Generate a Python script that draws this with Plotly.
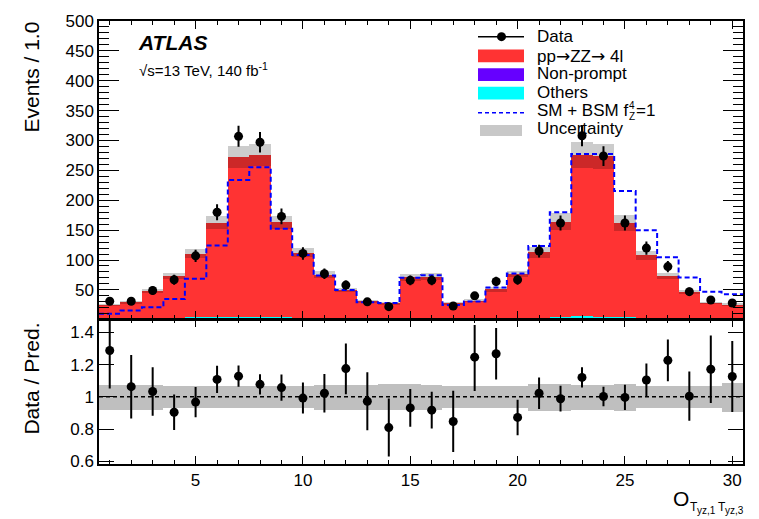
import plotly.graph_objects as go

# ---------------- data ----------------
bins = list(range(1, 31))
data = [31, 31, 49, 67, 107, 180, 307, 297, 173, 111, 77, 58, 30, 22, 66,
        66, 23, 40, 64, 67, 115, 162, 308, 274, 162, 120, 89, 47, 33, 28]
data_err = [5.6, 5.6, 7.0, 8.2, 10.3, 13.4, 17.5, 17.2, 13.2, 10.5, 8.8, 7.6, 5.5, 4.7, 8.1,
            8.1, 4.8, 6.3, 8.0, 8.2, 10.7, 12.7, 17.5, 16.6, 12.7, 11.0, 9.4, 6.9, 5.7, 5.3]
zz = [23.0, 27.6, 45.8, 70.5, 106.6, 157.6, 266.9, 270.1, 159.0, 108.6, 72.9, 47.9, 29.9, 26.0, 68.8,
      69.9, 26.0, 30.3, 48.8, 74.0, 109.0, 159.7, 269.9, 268.1, 158.0, 104.7, 70.0, 44.9, 26.8, 23.8]
nonprompt = [0.6, 0.7, 0.9, 1.1, 1.3, 1.5, 1.7, 1.7, 1.4, 1.1, 0.9, 0.7, 0.6, 0.6, 0.8,
             0.8, 0.6, 0.6, 0.8, 1.0, 1.2, 1.4, 1.7, 1.7, 1.4, 1.2, 0.9, 0.7, 0.6, 0.5]
others = [0.8, 0.9, 1.2, 2.0, 2.8, 3.4, 3.6, 3.5, 3.0, 2.2, 1.4, 1.0, 0.8, 0.8, 1.2,
          1.2, 0.8, 0.9, 1.2, 1.8, 2.5, 3.2, 3.8, 3.7, 3.0, 2.4, 1.6, 1.0, 0.8, 0.7]
bsm = [10.0, 15.6, 21.0, 34.7, 68.7, 124.5, 234.0, 255.4, 152.4, 108.6, 74.1, 50.0, 29.2, 28.1, 70.3,
       74.7, 24.8, 30.4, 53.9, 77.4, 123.4, 179.9, 277.3, 277.3, 215.4, 149.7, 104.8, 70.8, 46.8, 42.9]
unc_rel = [0.078, 0.078, 0.078, 0.068, 0.068, 0.067, 0.067, 0.067, 0.067, 0.067, 0.078, 0.078, 0.078, 0.08, 0.08,
           0.078, 0.07, 0.07, 0.07, 0.07, 0.083, 0.083, 0.078, 0.078, 0.083, 0.07, 0.07, 0.07, 0.07, 0.09]
ratio = [1.287, 1.063, 1.033, 0.904, 0.967, 1.108, 1.128, 1.077, 1.057, 0.992, 1.022, 1.175, 0.972, 0.809, 0.931,
         0.917, 0.847, 1.246, 1.267, 0.872, 1.022, 0.988, 1.120, 1.002, 0.996, 1.104, 1.226, 1.004, 1.171, 1.126]
ratio_err_up = [0.195, 0.196, 0.15, 0.11, 0.094, 0.084, 0.066, 0.063, 0.081, 0.096, 0.12, 0.155, 0.18, 0.18, 0.117,
                0.114, 0.19, 0.20, 0.16, 0.11, 0.098, 0.08, 0.063, 0.061, 0.078, 0.103, 0.13, 0.153, 0.21, 0.22]
ratio_err_down = [0.236, 0.197, 0.15, 0.11, 0.094, 0.084, 0.066, 0.063, 0.081, 0.096, 0.12, 0.16, 0.18, 0.18, 0.117,
                  0.114, 0.19, 0.21, 0.16, 0.11, 0.098, 0.08, 0.063, 0.061, 0.078, 0.103, 0.13, 0.153, 0.21, 0.22]
x_ticks = [5, 10, 15, 20, 25, 30]
y_ratio_ticks = [0.6, 0.8, 1.0, 1.2, 1.4]
y_ratio_labels = ["0.6", "0.8", "1", "1.2", "1.4"]

# ---------------- derived ----------------
edges = [b - 0.5 for b in bins] + [bins[-1] + 0.5]
base_others = nonprompt
base_zz = [n + o for n, o in zip(nonprompt, others)]
total = [n + o + z for n, o, z in zip(nonprompt, others, zz)]
band_base = [t * (1 - u) for t, u in zip(total, unc_rel)]
band_h = [2 * t * u for t, u in zip(total, unc_rel)]
rband_base = [1 - u for u in unc_rel]
rband_h = [2 * u for u in unc_rel]

FONT = "Liberation Sans, Arial, Helvetica, sans-serif"
RED = "#ff3333"
PURPLE = "#6600ff"
CYAN = "#00ffff"

W, H = 759, 519
ML, MR, MT, MB = 99, 16, 13, 55
PW, PH = W - ML - MR, H - MT - MB


def px(x):
    return (x - ML) / PW


def py(y):
    return (H - MB - y) / PH


fig = go.Figure()

# stacked backgrounds
fig.add_trace(go.Bar(x=bins, y=nonprompt, base=0, width=1,
                     marker=dict(color=PURPLE, line=dict(width=0)), xaxis="x", yaxis="y"))
fig.add_trace(go.Bar(x=bins, y=others, base=base_others, width=1,
                     marker=dict(color=CYAN, line=dict(width=0)), xaxis="x", yaxis="y"))
fig.add_trace(go.Bar(x=bins, y=zz, base=base_zz, width=1,
                     marker=dict(color=RED, line=dict(width=0)), xaxis="x", yaxis="y"))
# uncertainty band
fig.add_trace(go.Bar(x=bins, y=band_h, base=band_base, width=1,
                     marker=dict(color="rgba(0,0,0,0.2)", line=dict(width=0)), xaxis="x", yaxis="y"))
# BSM step line
fig.add_trace(go.Scatter(x=edges, y=bsm + [bsm[-1]], mode="lines",
                         line=dict(shape="hv", color="#0000ff", dash="5px,3px", width=2),
                         xaxis="x", yaxis="y"))
# data
fig.add_trace(go.Scatter(x=bins, y=data, mode="markers",
                         marker=dict(color="black", size=9),
                         error_y=dict(type="data", array=data_err, color="black", thickness=2, width=0),
                         xaxis="x", yaxis="y"))

# ratio band
fig.add_trace(go.Bar(x=bins, y=rband_h, base=rband_base, width=1,
                     marker=dict(color="rgba(0,0,0,0.25)", line=dict(width=0)), xaxis="x2", yaxis="y2"))
# ratio points
fig.add_trace(go.Scatter(x=bins, y=ratio, mode="markers",
                         marker=dict(color="black", size=9),
                         error_y=dict(type="data", symmetric=False, array=ratio_err_up,
                                      arrayminus=ratio_err_down, color="black", thickness=2, width=0),
                         xaxis="x2", yaxis="y2"))

shapes = [
    dict(type="line", xref="x2", yref="y2", x0=edges[0], x1=edges[-1], y0=1, y1=1,
         line=dict(color="black", width=1.5, dash="4px,3px"), layer="above"),
]

# ------- manual legend -------
lx0, lx1 = 478, 524
shapes += [
    dict(type="line", xref="paper", yref="paper", x0=px(lx0), x1=px(lx1), y0=py(29), y1=py(29),
         line=dict(color="black", width=1.5)),
    dict(type="circle", xref="paper", yref="paper", x0=px(497), x1=px(506), y0=py(33.5), y1=py(24.5),
         fillcolor="black", line=dict(color="black", width=0)),
    dict(type="rect", xref="paper", yref="paper", x0=px(lx0), x1=px(lx1), y0=py(55), y1=py(42),
         fillcolor=RED, line=dict(width=0)),
    dict(type="rect", xref="paper", yref="paper", x0=px(lx0), x1=px(lx1), y0=py(74), y1=py(61),
         fillcolor=PURPLE, line=dict(width=0)),
    dict(type="rect", xref="paper", yref="paper", x0=px(lx0), x1=px(lx1), y0=py(93), y1=py(80),
         fillcolor=CYAN, line=dict(width=0)),
    dict(type="line", xref="paper", yref="paper", x0=px(lx0), x1=px(lx1), y0=py(106.5), y1=py(106.5),
         line=dict(color="#0000ff", width=1.5, dash="4px,3px")),
    dict(type="rect", xref="paper", yref="paper", x0=px(480), x1=px(522), y0=py(130), y1=py(119),
         fillcolor="#c8c8c8", line=dict(width=0)),
]

ann = []


def text(x, y, s, size, xanchor="left", yanchor="middle", angle=0):
    ann.append(dict(xref="paper", yref="paper", x=px(x), y=py(y), text=s, showarrow=False,
                    xanchor=xanchor, yanchor=yanchor, textangle=angle,
                    font=dict(family=FONT, size=size, color="black")))


ARROW = '<span style="font-family:DejaVu Sans">\u2192</span>'
LT = 535
text(LT, 28.5, "Data", 17)
text(LT, 48.5, "pp" + ARROW + "ZZ" + ARROW + " 4l", 17)
text(LT, 66.5, "Non-prompt", 17)
text(LT, 85.5, "Others", 17)
text(LT, 104.5, "SM + BSM f", 17)
text(627, 99, "4", 10)
text(627, 110, "Z", 10)
text(634, 104.5, "=1", 17)
text(LT, 122.5, "Uncertainty", 17)

# ATLAS labels
text(136, 35, "<b><i>ATLAS</i></b>", 21)
text(137, 62, "\u221as=13 TeV, 140 fb<sup>-1</sup>", 15)

# axis titles
text(32, 12, "Events / 1.0", 21, xanchor="center", yanchor="top", angle=-90)
text(32, 318, "Data / Pred.", 21, xanchor="center", yanchor="top", angle=-90)

# x title O_{T_{yz,1} T_{yz,3}}
text(671, 499, "O", 21)
text(688, 507.5, "T", 12)
text(695, 511, "yz,1", 10)
text(715.5, 507.5, "T", 12)
text(723, 511, "yz,3", 10)

axis_common = dict(showline=True, linecolor="black", linewidth=1.5, mirror="allticks",
                   ticks="inside", showgrid=False, zeroline=False,
                   tickfont=dict(family=FONT, size=17, color="black"))

fig.update_layout(
    width=W, height=H,
    margin=dict(l=ML, r=MR, t=MT, b=MB),
    paper_bgcolor="white", plot_bgcolor="white",
    showlegend=False, barmode="overlay", bargap=0,
    shapes=shapes, annotations=ann,
    xaxis=dict(domain=[0, 1], anchor="y", range=[edges[0], edges[-1]], tickvals=x_ticks,
               showticklabels=False, ticklen=8, tickcolor="black",
               minor=dict(ticks="inside", dtick=1, tick0=0, ticklen=4, tickcolor="black"),
               **axis_common),
    yaxis=dict(domain=[0.328, 1], anchor="x", range=[1.8, 500], dtick=50, tick0=0,
               ticklen=20, tickcolor="black",
               minor=dict(ticks="inside", dtick=10, tick0=0, ticklen=10, tickcolor="black"),
               **axis_common),
    xaxis2=dict(domain=[0, 1], anchor="y2", range=[edges[0], edges[-1]], tickvals=x_ticks,
                ticklen=8, tickcolor="black",
                minor=dict(ticks="inside", dtick=1, tick0=0, ticklen=4, tickcolor="black"),
                **axis_common),
    yaxis2=dict(domain=[0, 0.326], anchor="x2", range=[0.583, 1.479], tickvals=y_ratio_ticks,
                ticktext=y_ratio_labels, ticklen=15, tickcolor="black", **axis_common),
)

fig.write_html("out.html")
